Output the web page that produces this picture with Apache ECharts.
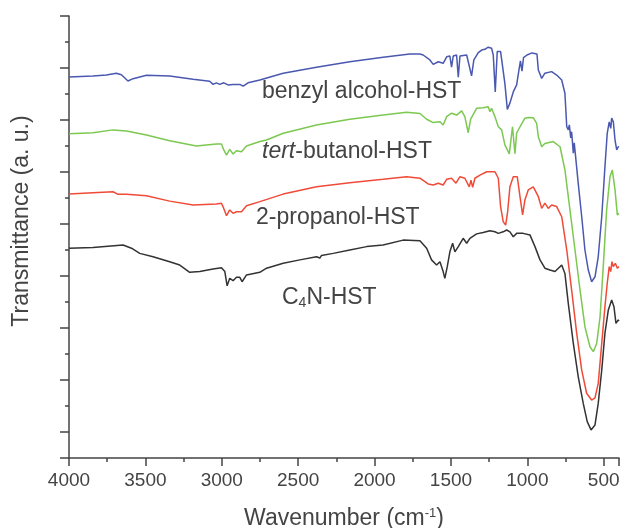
<!DOCTYPE html>
<html>
<head>
<meta charset="utf-8">
<script src="https://cdn.jsdelivr.net/npm/echarts@6/dist/echarts.min.js"></script>
<style>html,body{margin:0;padding:0;background:#fff}#c{width:621px;height:528px}</style>
</head>
<body>
<div id="c"></div>
<script>
// [wavenumber (cm-1), transmittance (a.u., offset)]
var benzylAlcohol = [[4000,14.65],[3843,14.69],[3755,14.73],[3690,14.80],[3657,14.74],[3614,14.50],[3581,14.59],[3493,14.72],[3341,14.69],[3188,14.57],[3079,14.49],[3057,14.37],[3035,14.43],[3013,14.37],[2987,14.43],[2959,14.35],[2926,14.37],[2882,14.37],[2860,14.30],[2828,14.43],[2751,14.54],[2598,14.80],[2380,15.03],[2162,15.24],[1944,15.41],[1769,15.54],[1703,15.54],[1682,15.50],[1638,15.31],[1616,15.14],[1583,15.24],[1551,15.18],[1528,15.43],[1507,15.46],[1496,15.03],[1485,15.46],[1463,15.50],[1452,14.65],[1441,15.46],[1397,15.50],[1365,14.70],[1350,15.31],[1321,15.59],[1299,15.69],[1278,15.72],[1256,15.80],[1234,15.76],[1223,15.50],[1210,14.08],[1197,15.63],[1175,15.63],[1147,14.41],[1131,13.41],[1114,13.65],[1092,14.08],[1070,14.35],[1055,14.92],[1045,15.27],[1035,14.88],[1025,15.40],[1002,15.50],[970,15.58],[937,15.54],[928,14.92],[906,14.60],[885,14.80],[841,14.86],[808,14.73],[775,14.54],[754,14.03],[742,12.74],[732,12.62],[725,12.81],[716,12.31],[710,12.55],[699,11.72],[693,12.12],[684,11.59],[667,10.57],[644,9.28],[623,8.00],[601,7.23],[579,6.78],[557,6.97],[536,7.74],[513,9.28],[492,11.20],[477,12.49],[464,12.93],[454,12.68],[448,13.07],[437,12.93],[426,12.23],[415,11.85],[405,11.97],[400,11.96]];
var tertButanol = [[4000,12.47],[3843,12.51],[3712,12.62],[3624,12.58],[3493,12.42],[3341,12.20],[3166,12.00],[3035,12.08],[3002,12.08],[2987,11.85],[2969,11.65],[2948,11.87],[2926,11.69],[2904,11.82],[2871,11.78],[2838,12.00],[2751,12.17],[2707,12.23],[2598,12.49],[2380,12.81],[2162,13.03],[1944,13.19],[1790,13.30],[1703,13.25],[1659,13.03],[1616,12.90],[1572,12.93],[1551,12.81],[1528,13.13],[1496,13.26],[1463,13.19],[1430,13.35],[1409,13.13],[1387,12.51],[1371,13.03],[1332,13.45],[1289,13.47],[1256,13.51],[1245,13.32],[1234,13.45],[1212,13.13],[1190,12.74],[1168,12.62],[1147,12.04],[1118,11.70],[1097,12.74],[1081,11.70],[1070,12.50],[1048,12.74],[1016,13.07],[994,13.10],[961,13.09],[939,12.87],[928,12.36],[906,11.97],[885,12.10],[830,12.17],[786,11.97],[754,11.08],[721,9.54],[688,8.00],[655,6.46],[623,5.05],[590,4.28],[568,4.09],[546,4.41],[524,5.43],[503,7.36],[481,9.54],[459,10.82],[444,11.08],[426,10.31],[411,9.35],[400,9.41]];
var propanol2 = [[4000,10.15],[3843,10.20],[3712,10.24],[3679,10.14],[3624,10.14],[3493,10.09],[3341,9.88],[3188,9.73],[3035,9.77],[3002,9.80],[2987,9.60],[2969,9.32],[2948,9.54],[2926,9.41],[2904,9.47],[2871,9.47],[2838,9.70],[2751,9.86],[2598,10.15],[2380,10.43],[2162,10.59],[1944,10.72],[1790,10.82],[1703,10.76],[1649,10.54],[1616,10.50],[1583,10.57],[1551,10.50],[1528,10.72],[1496,10.76],[1467,10.57],[1441,10.82],[1409,10.76],[1380,10.43],[1369,10.69],[1358,10.41],[1343,10.76],[1310,10.88],[1266,11.01],[1212,11.01],[1190,10.76],[1175,9.67],[1158,9.09],[1142,8.96],[1129,9.47],[1114,10.43],[1092,10.82],[1066,10.82],[1048,10.05],[1031,9.35],[1016,9.92],[994,10.31],[961,10.43],[939,10.18],[928,10.05],[906,9.60],[885,9.80],[863,9.60],[841,9.73],[808,9.67],[775,9.28],[742,8.00],[710,6.46],[677,4.80],[644,3.38],[612,2.49],[579,2.23],[557,2.31],[536,2.87],[513,4.41],[492,5.82],[477,6.72],[464,7.36],[454,7.17],[446,7.55],[437,7.36],[424,7.49],[411,7.30],[400,7.36]];
var c4nHST = [[4000,8.07],[3843,8.10],[3646,8.19],[3591,8.07],[3537,7.87],[3450,7.74],[3341,7.55],[3275,7.42],[3210,7.14],[3144,7.17],[3057,7.27],[3002,7.32],[2980,7.17],[2965,6.62],[2948,6.91],[2926,6.82],[2904,6.95],[2882,6.95],[2867,6.78],[2838,7.04],[2751,7.14],[2707,7.30],[2598,7.49],[2489,7.62],[2380,7.74],[2358,7.69],[2347,7.79],[2271,7.87],[2162,8.00],[2052,8.13],[1944,8.19],[1813,8.38],[1703,8.36],[1659,8.07],[1627,7.62],[1594,7.42],[1572,7.55],[1551,7.17],[1540,6.91],[1524,7.36],[1507,7.93],[1489,8.26],[1474,7.93],[1452,8.13],[1420,8.45],[1397,8.26],[1376,8.45],[1332,8.62],[1289,8.67],[1245,8.74],[1212,8.70],[1190,8.64],[1158,8.70],[1135,8.77],[1114,8.70],[1092,8.51],[1070,8.64],[1027,8.64],[983,8.58],[950,8.13],[917,7.62],[885,7.30],[852,7.23],[819,7.17],[797,7.30],[775,7.42],[754,7.10],[732,5.95],[699,4.41],[667,3.13],[634,2.10],[608,1.40],[583,1.08],[557,1.27],[536,2.10],[513,3.38],[492,4.80],[470,5.69],[448,6.08],[433,5.82],[420,5.18],[405,5.31],[400,5.27]];
var seriesNames = ['benzyl alcohol-HST', 'tert-butanol-HST', '2-propanol-HST', 'C4N-HST'];
var seriesColors = ['#4a58b0', '#7cc850', '#f04a38', '#333333'];
var xTickValues = [4000, 3500, 3000, 2500, 2000, 1500, 1000, 500];

var chart = echarts.init(document.getElementById('c'), null, {renderer: 'canvas'});
var textColor = '#444';
var axisColor = '#444';
var FONT = 'Liberation Sans, Arial, Helvetica, sans-serif';
var datasets = [benzylAlcohol, tertButanol, propanol2, c4nHST];

var option = {
  animation: false,
  backgroundColor: '#fff',
  grid: {left: 69, right: 2, top: 16, bottom: 70, containLabel: false, outerBoundsMode: 'none'},
  xAxis: [
    {type: 'value', min: 400, max: 4000, inverse: true, show: false, position: 'bottom', gridIndex: 0},
    {type: 'value', min: -4000, max: -400, interval: 500, position: 'bottom', gridIndex: 0,
     axisLine: {show: true, onZero: false, lineStyle: {color: axisColor, width: 1.5}},
     axisTick: {show: true, inside: false, length: 8, lineStyle: {color: axisColor, width: 1.5}},
     minorTick: {show: true, splitNumber: 2, length: 4, lineStyle: {color: axisColor, width: 1.5}},
     splitLine: {show: false},
     axisLabel: {show: true, margin: 13, color: textColor, fontSize: 19, fontFamily: FONT,
       formatter: function (v) { var a = Math.abs(v); return xTickValues.indexOf(a) >= 0 ? String(a) : ''; }},
     name: 'Wavenumber (cm{sup|-1})', nameLocation: 'middle', nameGap: 49,
     nameTextStyle: {color: textColor, fontSize: 23, fontFamily: FONT,
       rich: {sup: {fontSize: 13, color: textColor, fontFamily: FONT, verticalAlign: 'top', padding: [0, 0, 8, 0]}}}
    }
  ],
  yAxis: [
    {type: 'value', min: 0, max: 17, show: false, position: 'left', gridIndex: 0},
    {type: 'value', min: 0, max: 17, interval: 2, inverse: true, position: 'left', gridIndex: 0,
     axisLine: {show: true, onZero: false, lineStyle: {color: axisColor, width: 1.5}},
     axisTick: {show: true, inside: false, length: 9, lineStyle: {color: axisColor, width: 1.5}},
     minorTick: {show: true, splitNumber: 2, length: 4, lineStyle: {color: axisColor, width: 1.5}},
     splitLine: {show: false},
     axisLabel: {show: false}
    }
  ],
  graphic: [
    {type: 'text', x: 22, y: 221, rotation: Math.PI / 2,
     style: {text: 'Transmittance (a. u.)', font: '23px ' + FONT, fill: textColor, align: 'center', verticalAlign: 'middle'}},
    {type: 'text', x: 262, y: 92,
     style: {text: 'benzyl alcohol-HST', font: '23px ' + FONT, fill: textColor, align: 'left', verticalAlign: 'middle'}},
    {type: 'text', x: 262, y: 152,
     style: {text: '{it|tert}-butanol-HST', font: '23px ' + FONT, fill: textColor, align: 'left', verticalAlign: 'middle',
       rich: {it: {fontStyle: 'italic', fontSize: 23, fontFamily: FONT, fill: textColor}}}},
    {type: 'text', x: 256, y: 218,
     style: {text: '2-propanol-HST', font: '23px ' + FONT, fill: textColor, align: 'left', verticalAlign: 'middle'}},
    {type: 'text', x: 282, y: 298,
     style: {text: 'C{sub|4}N-HST', font: '23px ' + FONT, fill: textColor, align: 'left', verticalAlign: 'middle',
       rich: {sub: {fontSize: 14, fontFamily: FONT, fill: textColor, verticalAlign: 'bottom', padding: [10, 0, 0, 0]}}}}
  ],
  series: datasets.map(function (d, i) {
    return {
      name: seriesNames[i], type: 'line', xAxisIndex: 0, yAxisIndex: 0,
      data: d, showSymbol: false, symbol: 'none', smooth: false,
      lineStyle: {color: seriesColors[i], width: 1.5}, itemStyle: {color: seriesColors[i]},
      z: 4 - i
    };
  })
};
chart.setOption(option);
</script>
</body>
</html>
